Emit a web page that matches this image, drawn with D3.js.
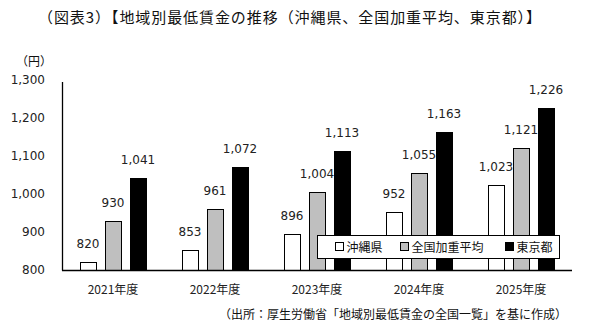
<!DOCTYPE html>
<html>
<head>
<meta charset="utf-8">
<script src="https://cdn.jsdelivr.net/npm/d3@7"></script>
<style>
  html, body { margin: 0; padding: 0; background: #fff; }
  svg { display: block; }
</style>
</head>
<body>
<div id="chart"></div>
<script>
// 地域別最低賃金の推移（円）
const years = ["2021年度", "2022年度", "2023年度", "2024年度", "2025年度"];
const seriesNames = ["沖縄県", "全国加重平均", "東京都"];
const okinawa = [820, 853, 896, 952, 1023];
const nationalAvg = [930, 961, 1004, 1055, 1121];
const tokyo = [1041, 1072, 1113, 1163, 1226];
const yTicks = [800, 900, 1000, 1100, 1200, 1300];
const seriesFill = ["#ffffff", "#bfbfbf", "#000000"];

const W = 591, H = 327;
const plotLeft = 62, plotRight = 572, plotTop = 80, plotBottom = 270;
const jpFont = "'Noto Sans CJK JP', 'Noto Sans', sans-serif";
const numFont = "'DejaVu Sans', Verdana, sans-serif";

const svg = d3.select("#chart").append("svg")
  .attr("width", W).attr("height", H);

const seriesValues = [okinawa, nationalAvg, tokyo];
const rows = years.map((yr, i) => ({
  year: yr,
  values: seriesNames.map((s, k) => ({ key: s, k, value: seriesValues[k][i] }))
}));

const x0 = d3.scaleBand().domain(years).range([plotLeft, plotRight]).padding(0);
const x1 = d3.scaleBand().domain(seriesNames).range([0, x0.bandwidth()])
  .paddingInner(0.36).paddingOuter(0.72);
const y = d3.scaleLinear().domain([800, 1300]).range([plotBottom, plotTop]);

// タイトル（幅 503px に字間をそろえる）
const title = svg.append("text")
  .attr("x", 38).attr("y", 23)
  .style("font-family", jpFont).style("font-size", "15px").attr("fill", "#111")
  .text("（図表3）【地域別最低賃金の推移（沖縄県、全国加重平均、東京都）】");
const titleLen = title.node().getComputedTextLength();
const titleChars = title.text().length;
title.style("letter-spacing", `${(503 - titleLen) / (titleChars - 1)}px`);

// 単位
svg.append("text")
  .attr("x", 16).attr("y", 66)
  .style("font-family", jpFont).style("font-size", "12px").attr("fill", "#111")
  .text("（円）");

// 縦軸ラベル
const yAxis = d3.axisLeft(y).tickValues(yTicks).tickSize(0).tickPadding(17)
  .tickFormat(d3.format(","));
const gy = svg.append("g").attr("transform", `translate(${plotLeft},0)`).call(yAxis);
gy.select(".domain").remove();
gy.selectAll("text")
  .style("font-family", numFont).style("font-size", "12px").attr("fill", "#222");

// 棒
const groups = svg.append("g").selectAll("g").data(rows).join("g")
  .attr("transform", d => `translate(${x0(d.year)},0)`);

groups.selectAll("rect").data(d => d.values).join("rect")
  .attr("x", d => x1(d.key) + 0.5)
  .attr("y", d => Math.round(y(d.value)) + 0.5)
  .attr("width", x1.bandwidth())
  .attr("height", d => plotBottom - Math.round(y(d.value)))
  .attr("fill", d => seriesFill[d.k])
  .attr("stroke", "#000").attr("stroke-width", 1);

groups.selectAll("text.val").data(d => d.values).join("text")
  .attr("class", "val")
  .attr("x", d => x1(d.key) + x1.bandwidth() / 2)
  .attr("y", d => y(d.value) - 14)
  .attr("text-anchor", "middle")
  .style("font-family", numFont).style("font-size", "12px").attr("fill", "#222")
  .text(d => d3.format(",")(d.value));

// 軸線
svg.append("line")
  .attr("x1", plotLeft + 0.5).attr("x2", plotLeft + 0.5)
  .attr("y1", plotTop + 2).attr("y2", plotBottom + 0.5)
  .attr("stroke", "#000").attr("stroke-width", 1.3);
svg.append("line")
  .attr("x1", plotLeft).attr("x2", plotRight)
  .attr("y1", plotBottom + 0.5).attr("y2", plotBottom + 0.5)
  .attr("stroke", "#000").attr("stroke-width", 1.3);

// 横軸ラベル
const xAxis = d3.axisBottom(x0).tickSize(0).tickPadding(15);
const gx = svg.append("g").attr("transform", `translate(0,${plotBottom})`).call(xAxis);
gx.select(".domain").remove();
gx.selectAll("text")
  .style("font-family", jpFont).style("font-size", "12px").attr("fill", "#222");

// 凡例
const legend = svg.append("g").attr("transform", "translate(317.5,235.5)");
legend.append("rect")
  .attr("width", 242).attr("height", 23)
  .attr("fill", "#fff").attr("stroke", "#000").attr("stroke-width", 1);
const legendX = [18, 83, 188];
const items = legend.selectAll("g.item").data(seriesNames).join("g")
  .attr("class", "item")
  .attr("transform", (d, i) => `translate(${legendX[i]},0)`);
items.append("rect")
  .attr("x", 0).attr("y", 7).attr("width", 8).attr("height", 8)
  .attr("fill", (d, i) => seriesFill[i]).attr("stroke", "#000");
items.append("text")
  .attr("x", 11).attr("y", 16)
  .style("font-family", jpFont).style("font-size", "12px").attr("fill", "#111")
  .text(d => d);

// 出所
svg.append("text")
  .attr("x", 567).attr("y", 319)
  .attr("text-anchor", "end")
  .style("font-family", jpFont).style("font-size", "12px").attr("fill", "#111")
  .text("（出所：厚生労働省「地域別最低賃金の全国一覧」を基に作成）");
</script>
</body>
</html>
